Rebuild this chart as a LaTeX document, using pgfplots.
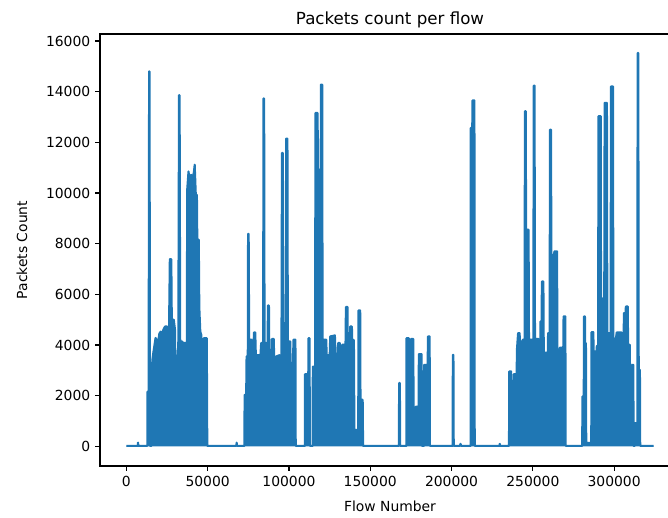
\documentclass[border=0pt]{standalone}
\usepackage{pgfplots}
\pgfplotsset{compat=1.18}
\usepackage{pgfplotstable}
\usepackage{fontspec}
\setmainfont{DejaVu Sans}
\definecolor{mplblue}{RGB}{31,119,180}
\pgfplotstableread{
x y
0 20
7000 20
7190 150
7400 20
12900 20
12950 2160
13700 2160
14000 14800
14300 14800
14500 20
15490 20
15550 2100
15980 3400
16590 3700
17210 3950
17950 4280
18680 4200
19480 4080
20280 4450
21140 4530
21940 4400
22740 4600
23790 4730
25020 4730
26240 4600
26740 7390
27660 7390
27960 5000
29190 5000
29930 4600
30360 1770
31040 2630
31960 4140
32390 13860
32760 13860
33130 4140
34230 4140
35150 4080
36380 4080
37180 4100
37430 10130
38230 10850
39150 10400
39760 10720
40690 10600
41490 10800
42040 11120
42720 9930
43400 9930
43640 8160
44560 8160
44870 5500
45480 4530
46090 4400
46400 3220
47140 3300
47630 4270
49480 4270
49780 20
67600 20
67850 150
68100 20
72650 20
72710 2030
73690 2030
73940 3550
74680 3550
74860 8390
75230 8390
75540 4210
76950 4210
77260 3880
78180 3880
78490 4500
79290 4500
79720 3390
80450 3600
82480 3600
82910 4080
84140 4080
84320 13730
84750 13730
85000 4100
86840 4050
87090 5560
87700 5560
88010 3020
89240 3020
89550 4240
90650 4240
90960 3390
91880 3390
92190 3550
94160 3600
94650 1240
95390 3600
95690 11580
96180 11580
96430 4860
98020 4860
98270 12150
99070 12150
99320 4140
100790 4140
101100 3090
102450 3090
102760 4210
103990 4210
104170 20
109830 20
109890 2850
111060 2850
111240 2620
111860 2620
112040 4270
112660 4270
112900 20
114560 20
114680 3150
116090 3150
116280 13160
117630 13160
117820 10920
119540 10920
119660 14280
120460 14280
120700 4210
122920 4210
123230 3600
125070 3600
125380 4340
128270 4380
128580 3600
129990 3600
130230 4080
131220 4080
131460 3340
132450 3340
132690 4010
134780 4010
135030 5500
136010 5500
136260 3290
137360 3290
137610 4730
138720 4730
138900 4200
139950 4200
140250 650
141670 650
141790 450
142590 450
142770 5370
143820 5370
144000 1840
145350 1840
145600 20
167660 20
167730 2500
168220 2500
168400 20
172210 20
172270 4270
173750 4270
173990 3940
174790 3940
175100 4240
176450 4240
176700 1240
177800 1240
177990 1570
179710 1570
179890 3640
181610 3640
181800 20
182970 20
183090 3220
185300 3220
185490 4340
186530 4340
186720 20
200670 20
200790 3610
201160 3610
201340 20
205100 20
205500 100
206000 20
211730 20
211790 12570
212720 12570
212900 13660
214070 13660
214250 20
229400 20
229670 100
229900 20
235330 20
235460 2960
236630 2960
236870 1570
237980 1570
238220 2850
240000 2850
240250 3850
240920 4470
241840 4470
242090 4140
242890 4140
243130 1570
243620 1570
243810 4210
244920 4210
245100 13230
245650 13230
245840 8550
247380 8550
247620 4210
250330 4210
250510 14240
251060 14240
251310 4240
253520 4240
253770 2620
254450 2620
254630 4930
255370 4930
255560 6510
256480 6510
256730 3700
259180 3700
259370 4470
260300 4470
260540 12500
261160 12500
261400 7560
263060 7560
263250 7700
264910 7700
265090 3800
266440 3800
266620 3900
268710 3900
268890 5130
270000 5130
270180 20
280380 20
280440 1970
281300 1970
281420 5130
282040 5130
282160 4080
282650 4080
282830 140
285910 140
286090 4510
287200 4510
287380 3750
289170 3750
289350 3970
290150 3970
290330 13030
291750 13030
291930 5850
293900 5820
294140 13560
295560 13560
295800 4470
297830 4470
298020 14210
299310 14210
299500 4300
300730 4100
301590 4500
304540 4500
304790 2000
305760 2000
305950 5260
307000 5260
307190 5520
308350 5520
308600 4010
309580 4010
309820 2760
310810 2760
310990 3220
311790 3220
311970 20
312650 20
312770 920
314240 920
314430 15530
314860 15530
315110 3020
315850 3020
316030 20
324300 20
}\flowdata
\begin{document}
\begin{tikzpicture}
\begin{axis}[
  name=ax,
  scale only axis,
  width=417.6pt, height=311pt,
  xmin=-16200, xmax=340500,
  ymin=-775, ymax=16275,
  xtick={0,50000,100000,150000,200000,250000,300000},
  ytick={0,2000,4000,6000,8000,10000,12000,14000,16000},
  scaled ticks=false,
  xtick pos=left, ytick pos=left,
  tick align=outside,
  major tick length=3.5pt,
  tick style={black, line width=0.8pt},
  axis line style={black, line width=0.8pt},
  ticklabel style={font=\fontsize{10}{12}\selectfont,
    /pgf/number format/fixed,
    /pgf/number format/1000 sep={},
    /pgf/number format/assume math mode=true},
  title={Packets count per flow},
  title style={font=\fontsize{12}{14}\selectfont, at={(axis description cs:0.5,1)}, anchor=base, yshift=1pt},
  xlabel={Flow Number},
  xlabel style={font=\fontsize{10}{12}\selectfont, at={(axis description cs:0.5,-0.0926)}, anchor=center},
  ylabel={Packets Count},
  ylabel style={font=\fontsize{10}{12}\selectfont, at={(axis description cs:-0.1345,0.5)}, anchor=center},
]
\addplot[draw=none, fill=mplblue] table[x=x, y=y]{\flowdata} \closedcycle;
\addplot[mplblue, line width=1.5pt, line join=round, no marks] table[x=x, y=y]{\flowdata};
\end{axis}
\pgfresetboundingbox
\path[use as bounding box] ([xshift=-72pt, yshift=-36.72pt]ax.south west) rectangle ++(480.96pt, 372.24pt);
\end{tikzpicture}
\end{document}
